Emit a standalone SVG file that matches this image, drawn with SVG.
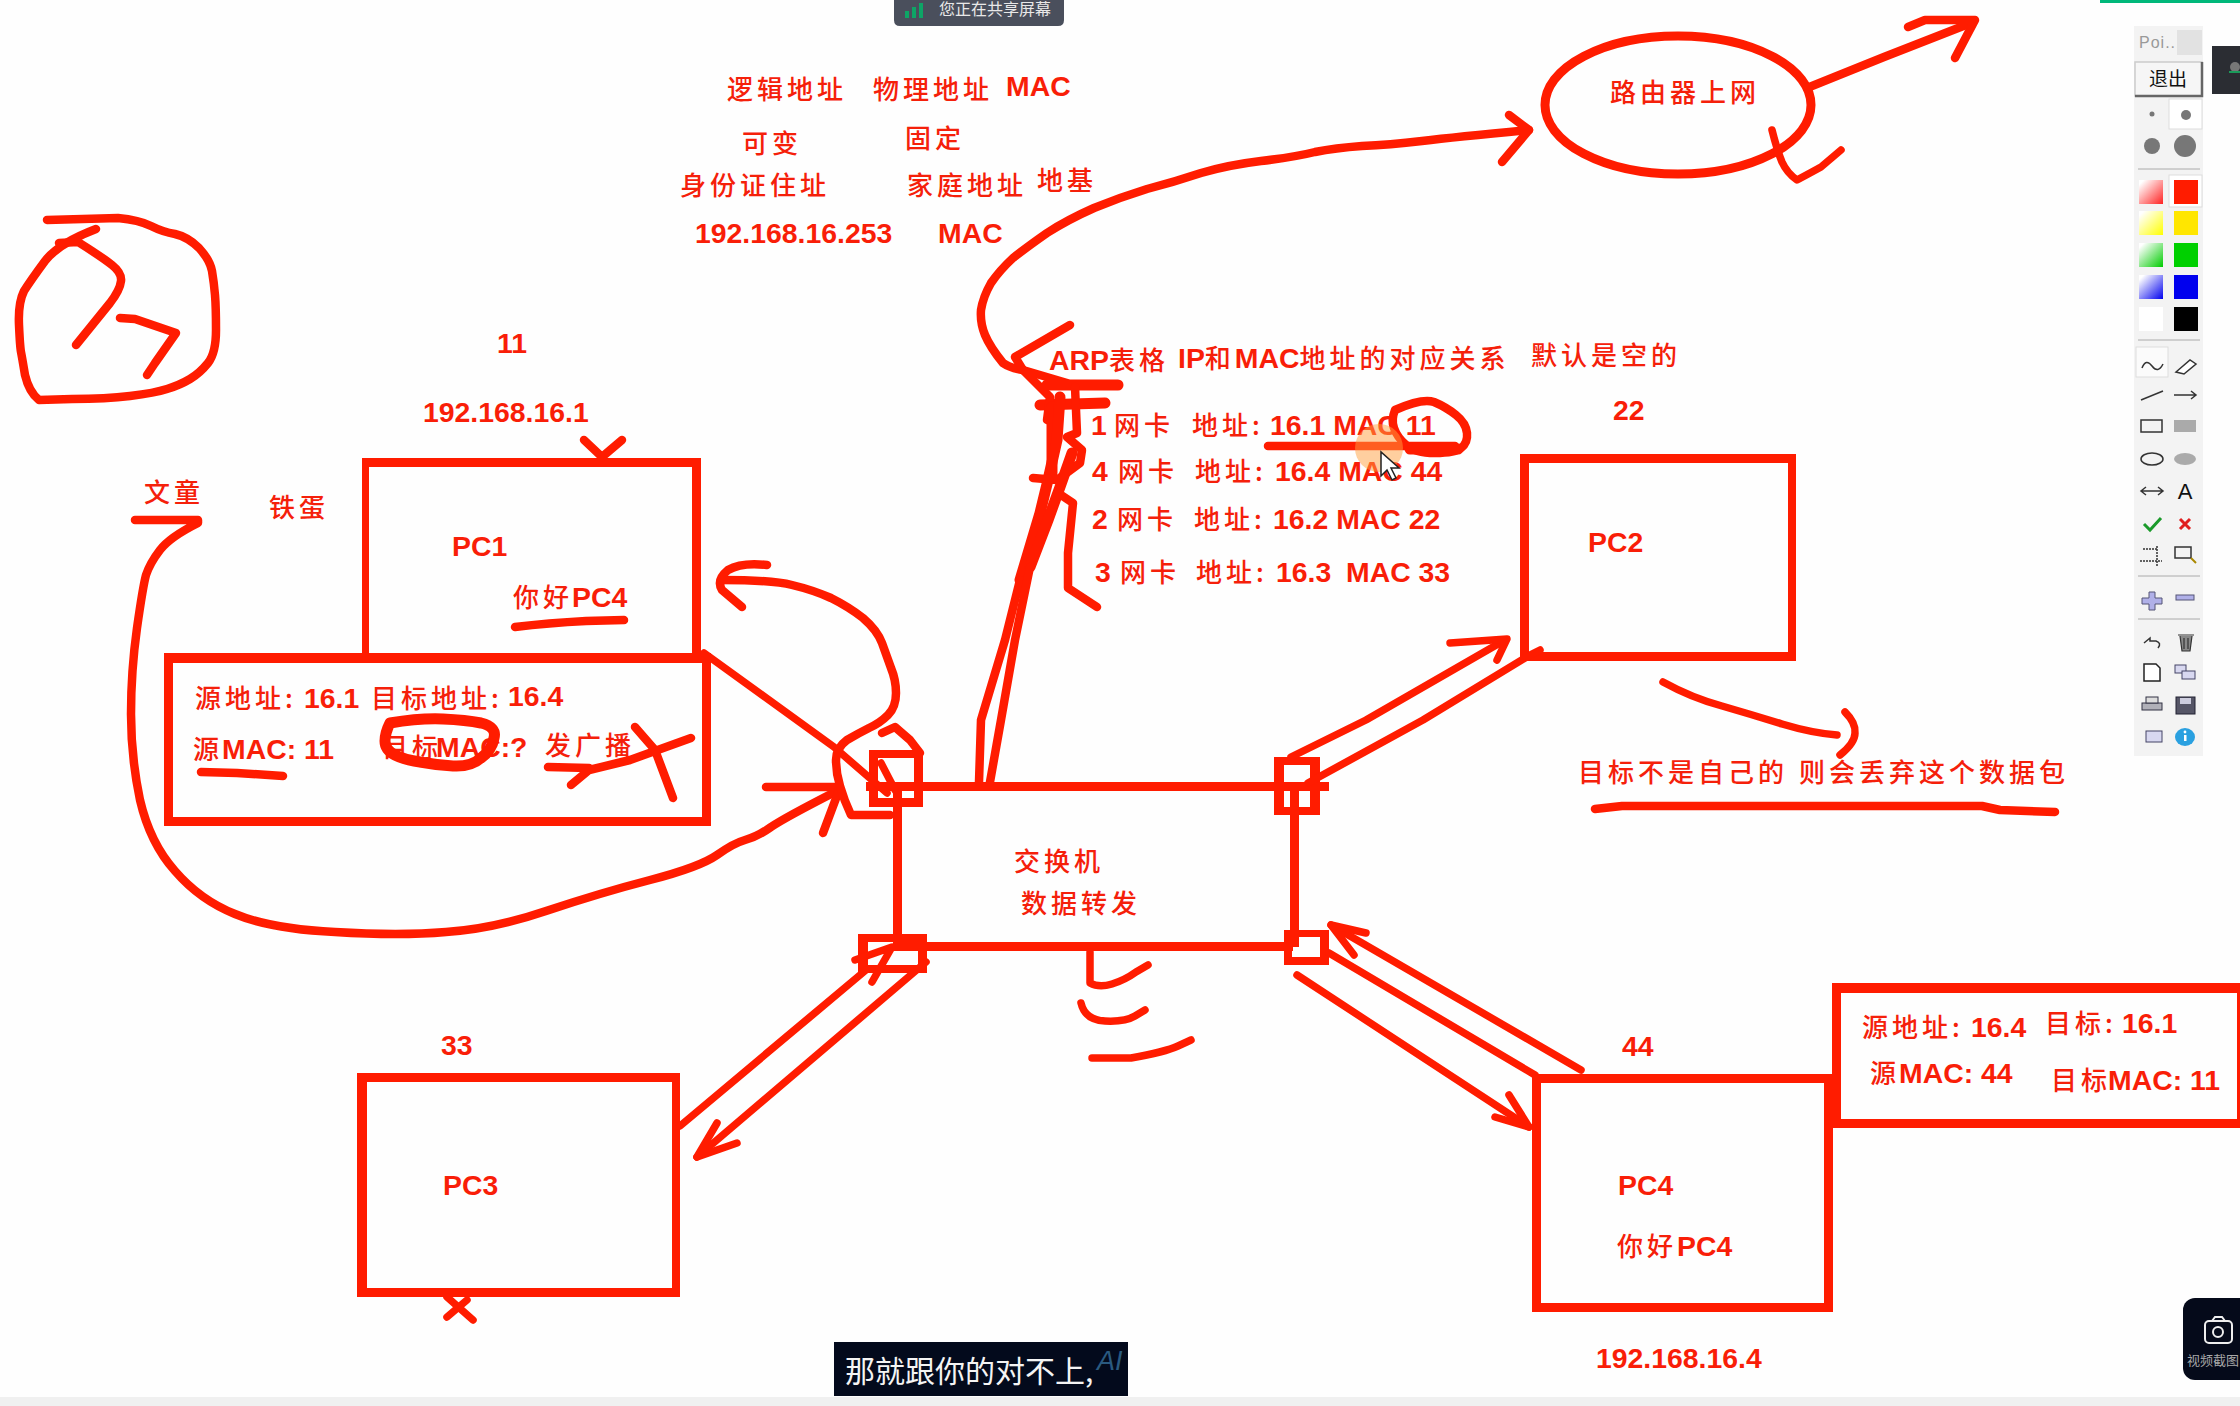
<svg xmlns="http://www.w3.org/2000/svg" width="2240" height="1406" viewBox="0 0 2240 1406">
<style>
.c{font-family:"Noto Sans CJK SC","Noto Sans",sans-serif;font-size:26px;font-weight:500;letter-spacing:4px;fill:#f5200a}
.l{font-family:"Liberation Sans",Arial,sans-serif;font-size:28.4px;font-weight:700;fill:#f91e08}
.s{fill:none;stroke:#ff1c00;stroke-width:8.5;stroke-linecap:round;stroke-linejoin:round}
.w{stroke-width:11}
.n{stroke-width:7.5}
.r{fill:#ff1c00;fill-rule:evenodd}
.ic{fill:none;stroke:#333;stroke-width:1.5}
.sep{stroke:#aaa;stroke-width:1}
</style>
<defs>
<linearGradient id="gr" x1="0" y1="0" x2="1" y2="1"><stop offset="0.1" stop-color="#ffffff"/><stop offset="1" stop-color="#f22"/></linearGradient>
<linearGradient id="gy" x1="0" y1="0" x2="1" y2="1"><stop offset="0.1" stop-color="#ffffff"/><stop offset="1" stop-color="#ff0"/></linearGradient>
<linearGradient id="gg" x1="0" y1="0" x2="1" y2="1"><stop offset="0.1" stop-color="#ffffff"/><stop offset="1" stop-color="#0c0"/></linearGradient>
<linearGradient id="gb" x1="0" y1="0" x2="1" y2="1"><stop offset="0.1" stop-color="#ffffff"/><stop offset="1" stop-color="#00e"/></linearGradient>
</defs>
<rect width="2240" height="1406" fill="#fefefe"/>

<g id="notes-top">
<text y="99"><tspan class="c" x="727">逻辑地址</tspan><tspan class="c" x="873">物理地址</tspan><tspan class="l" x="1006" y="96">MAC</tspan></text>
<text class="c" x="742" y="153">可变</text>
<text class="c" x="905" y="148">固定</text>
<text class="c" x="680" y="195">身份证住址</text>
<text class="c" x="907" y="195">家庭地址</text>
<text class="c" x="1037" y="190">地基</text>
<text class="l" x="695" y="243">192.168.16.253</text>
<text class="l" x="938" y="243">MAC</text>
</g>

<g id="arp-table">
<text y="370"><tspan class="l" x="1049">ARP</tspan><tspan class="c">表格</tspan><tspan class="l" x="1178" y="368">IP</tspan><tspan class="c" y="368">和</tspan><tspan class="l" y="368">MAC</tspan><tspan class="c" y="368">地址的对应关系</tspan></text>
<text class="c" x="1531" y="365">默认是空的</text>
<text y="435"><tspan class="l" x="1091">1</tspan><tspan class="c" x="1114">网卡</tspan><tspan class="c" x="1192">地址:</tspan><tspan class="l" x="1270">16.1 MAC 11</tspan></text>
<text y="481"><tspan class="l" x="1092">4</tspan><tspan class="c" x="1118">网卡</tspan><tspan class="c" x="1195">地址:</tspan><tspan class="l" x="1275">16.4 MAC 44</tspan></text>
<text y="529"><tspan class="l" x="1092">2</tspan><tspan class="c" x="1117">网卡</tspan><tspan class="c" x="1194">地址:</tspan><tspan class="l" x="1273">16.2 MAC 22</tspan></text>
<text y="582"><tspan class="l" x="1095">3</tspan><tspan class="c" x="1120">网卡</tspan><tspan class="c" x="1196">地址:</tspan><tspan class="l" x="1276">16.3</tspan><tspan class="l" x="1346">MAC 33</tspan></text>
</g>

<g id="router">
<ellipse cx="1678" cy="105" rx="133" ry="69" fill="none" stroke="#ff1c00" stroke-width="9"/>
<text class="c" x="1610" y="102">路由器上网</text>
</g>

<g id="pc1">
<path class="r" d="M362 458H701V660H362ZM369 467V660H692V467Z"/>
<text class="l" x="452" y="556">PC1</text>
<text y="607"><tspan class="c" x="513">你好</tspan><tspan class="l" x="572">PC4</tspan></text>
<text class="l" x="497" y="353">11</text>
<text class="l" x="423" y="422">192.168.16.1</text>
</g>

<g id="packet1">
<path class="r" d="M164 653H711V826H164ZM173 663V817H702V663Z"/>
<text y="708"><tspan class="c" x="195">源地址:</tspan><tspan class="l" x="304">16.1</tspan><tspan class="c" x="371">目标地址:</tspan><tspan class="l" x="508" y="706">16.4</tspan></text>
<text y="759"><tspan class="c" x="193">源</tspan><tspan class="l" x="222">MAC: 11</tspan></text>
<text y="757"><tspan class="c" x="382">目标</tspan><tspan class="l" x="436">MAC:?</tspan><tspan class="c" x="545" y="755">发广播</tspan></text>
</g>

<g id="pc2">
<path class="r" d="M1520 454H1796V661H1520ZM1529 463V652H1788V463Z"/>
<text class="l" x="1588" y="552">PC2</text>
<text class="l" x="1613" y="420">22</text>
</g>

<g id="pc3">
<path class="r" d="M357 1073H680V1297H357ZM367 1082V1288H672V1082Z"/>
<text class="l" x="443" y="1195">PC3</text>
<text class="l" x="441" y="1055">33</text>
</g>

<g id="pc4">
<path class="r" d="M1532 1074H1833V1312H1532ZM1541 1083V1303H1824V1083Z"/>
<text class="l" x="1618" y="1195">PC4</text>
<text y="1256"><tspan class="c" x="1617">你好</tspan><tspan class="l" x="1677">PC4</tspan></text>
<text class="l" x="1622" y="1056">44</text>
<text class="l" x="1596" y="1368">192.168.16.4</text>
</g>

<g id="packet2">
<path class="r" d="M1832 983H2245V1128H1832ZM1841 993V1119H2237V993Z"/>
<text y="1037"><tspan class="c" x="1862">源地址:</tspan><tspan class="l" x="1971">16.4</tspan><tspan class="c" x="2045" y="1033">目标:</tspan><tspan class="l" x="2122" y="1033">16.1</tspan></text>
<text y="1083"><tspan class="c" x="1870">源</tspan><tspan class="l" x="1899">MAC: 44</tspan></text>
<text y="1090"><tspan class="c" x="2051">目标</tspan><tspan class="l" x="2108">MAC: 11</tspan></text>
</g>

<g id="switch">
<rect x="866" y="782" width="463" height="9" fill="#ff1c00"/>
<rect x="893" y="942" width="400" height="9" fill="#ff1c00"/>
<rect x="893" y="782" width="9" height="165" fill="#ff1c00"/>
<rect x="1290" y="782" width="9" height="165" fill="#ff1c00"/>
<path class="r" d="M869 750H923V807H869ZM878 758V798H914V758Z"/>
<path class="r" d="M1274 757H1320V815H1274ZM1284 765V807H1310V765Z"/>
<path class="r" d="M858 934H927V973H858ZM868 942V965H918V942Z"/>
<path class="r" d="M1284 930H1329V965H1284ZM1292 937V957H1320V937Z"/>
<text class="c" x="1014" y="871">交换机</text>
<text class="c" x="1021" y="913">数据转发</text>
</g>

<g id="labels">
<text class="c" x="144" y="502">文童</text>
<text class="c" x="269" y="517">铁蛋</text>
<text class="c" x="1578" y="782">目标不是自己的</text>
<text class="c" x="1799" y="782">则会丢弃这个数据包</text>
</g>

<g id="connectors">
<polyline class="s n" points="1291,757 1366,720 1505,640"/>
<polyline class="s n" points="1450,643 1507,639 1497,660"/>
<polyline class="s n" points="1308,783 1423,720 1530,655 1540,650"/>
<polyline class="s n" points="680,1126 866,970"/>
<polyline class="s n" points="855,960 892,947 872,982"/>
<polyline class="s n" points="697,1157 926,962"/>
<polyline class="s n" points="717,1123 697,1157 737,1143"/>
<polyline class="s n" points="1331,925 1581,1070"/>
<polyline class="s n" points="1366,933 1331,925 1354,955"/>
<polyline class="s n" points="1329,953 1535,1075"/>
<polyline class="s n" points="1297,975 1529,1127"/>
<polyline class="s n" points="1509,1095 1529,1127 1495,1117"/>
<polyline class="s n" points="704,653 834,747 887,793"/>
<polyline class="s n" points="881,763 895,790"/>
<path class="s" d="M135,520 H198 V523 Q170,537 160,550 Q150,563 146,575 Q143,586 137,628 Q131,671 131,714 Q131,757 140,800 Q150,843 175,871 Q200,900 235,914 Q271,929 335,932 Q400,936 446,932 Q493,929 546,911 Q600,893 650,880 Q700,867 717,855 Q734,843 745,840 Q757,837 771,827 Q786,817 835,792"/>
<polyline class="s" points="766,787 835,787"/>
<polyline class="s" points="823,833 838,793"/>
<path class="s" d="M767,565 Q742,562 728,570 Q716,580 722,590 L742,607"/>
<path class="s" d="M721,580 Q772,580 792,585 Q813,590 831,598 Q849,607 863,618 Q877,630 882,643 Q887,657 891,668 Q896,680 896,693 Q896,707 888,715 Q880,723 869,728 Q859,733 847,740 Q836,748 836,760 Q836,773 840,786 Q844,800 851,815 L890,815"/>
<polyline class="s" points="882,733 895,727 910,740 920,753"/>
<path class="s" d="M1529,130 Q1456,137 1422,141 Q1389,145 1362,146 Q1335,148 1315,152 Q1295,157 1261,161 Q1228,165 1201,173 Q1174,182 1147,189 Q1121,197 1094,208 Q1067,220 1047,233 Q1027,247 1013,258 Q1000,270 991,283 Q983,297 981,310 Q980,323 985,335 Q990,347 1003,363 Q1010,368 1023,370 L1067,383"/>
<polyline class="s" points="1509,115 1529,130 1502,162"/>
<polyline class="s" points="1070,325 1015,357 1023,370"/>
<polyline class="s w" points="1047,385 1118,385"/>
<polyline class="s w" points="1040,405 1105,403"/>
<polyline class="s" points="1023,370 1050,397 1047,420"/>
<polyline class="s w" points="1052,407 1052,473"/>
<polyline class="s" points="1075,387 1077,433 1067,437 1082,450 1080,463 1057,480 1033,478"/>
<polyline class="s w" points="1060,397 1057,440 1048,480"/>
<polyline class="s w" points="1048,480 1040,513 1020,580"/>
<polyline class="s" points="1020,580 1005,640 981,720 979,782"/>
<polyline class="s w" points="1072,453 1060,487 1048,520 1030,567"/>
<polyline class="s" points="1030,567 1015,640 1001,720 990,782"/>
<polyline class="s" points="1058,493 1073,503 1068,553 1068,588 1097,607"/>
<polyline class="s" points="1807,88 1884,57 1971,23"/>
<polyline class="s" points="1908,27 1925,20 1975,20 1955,58"/>
<path class="s n" d="M1772,130 Q1777,150 1782,162 Q1787,173 1797,180 Q1812,172 1821,167 L1841,150"/>
</g>

<g id="annotations">
<path class="s" d="M47,220 L118,218 Q139,220 151,226 Q163,232 175,234 Q188,237 199,248 Q210,260 212,271 Q214,283 215,295 Q216,307 216,330 Q216,353 208,363 Q200,373 190,379 Q180,385 167,389 Q155,393 130,396 Q106,399 72,399 L39,400 Q29,392 25,375 Q22,357 21,352 Q20,347 19,325 Q18,303 24,291 Q31,280 45,261 Q59,243 96,229"/>
<path class="s" d="M59,243 L78,242 Q102,257 112,265 Q122,273 121,281 Q120,290 110,303 L76,345"/>
<polyline class="s" points="120,318 135,319 176,333 155,363 147,375"/>
<polyline class="s" points="584,440 602,457 622,440"/>
<path class="s" d="M515,627 Q548,623 586,621 L624,620"/>
<polyline class="s" points="201,772 237,773 283,776"/>
<path class="s w" d="M390,723 Q420,718 443,719 Q466,720 481,723 Q497,727 494,738 Q492,750 481,758 Q471,767 453,766 Q436,765 420,762 Q405,760 395,755 Q385,750 385,741 Q385,733 390,723"/>
<polyline class="s" points="548,767 589,768"/>
<polyline class="s" points="571,785 589,770 630,760 691,738"/>
<polyline class="s" points="635,727 655,750 673,798"/>
<polyline class="s" points="1268,446 1455,446"/>
<path class="s" d="M1395,410 Q1422,398 1434,402 Q1446,407 1456,415 Q1466,423 1467,433 Q1468,443 1461,448 Q1455,453 1435,453 Q1415,453 1406,445 Q1397,437 1394,428 Q1391,420 1395,410"/>
<polyline class="s w" points="1410,449 1458,449"/>
<path class="s n" d="M1090,952 L1090,983 Q1099,988 1112,984 Q1125,980 1136,972 L1148,965"/>
<path class="s n" d="M1081,1003 Q1085,1020 1105,1021 Q1125,1022 1135,1016 L1145,1010"/>
<path class="s n" d="M1092,1058 L1131,1058 Q1165,1052 1178,1046 L1191,1040"/>
<path class="s n" d="M1663,682 Q1692,698 1722,706 Q1753,715 1782,724 Q1812,733 1837,735"/>
<path class="s n" d="M1845,712 Q1856,723 1855,733 Q1855,743 1840,755"/>
<polyline class="s" points="1595,809 1622,806 1982,806 2000,810 2055,812"/>
<polyline class="s n" points="447,1317 467,1300"/>
<polyline class="s n" points="447,1297 473,1320"/>
</g>

<g id="cursor">
<circle cx="1379" cy="448" r="24" fill="#ffa040" fill-opacity="0.5"/>
<polygon points="1381,452 1381,476 1387,470 1392,480 1396,478 1391,468 1399,468" fill="#fff" stroke="#222" stroke-width="1.5"/>
</g>

<g id="share-banner">
<path d="M894 0H1064V20Q1064 26 1058 26H900Q894 26 894 20Z" fill="#4a4f5c"/>
<rect x="905" y="11" width="4" height="7" fill="#0ea566"/>
<rect x="912" y="7" width="4" height="11" fill="#0ea566"/>
<rect x="919" y="3" width="4" height="15" fill="#0ea566"/>
<text x="939" y="15" font-family="Noto Sans CJK SC,sans-serif" font-size="16" fill="#e8e8e8">您正在共享屏幕</text>
</g>

<rect x="2100" y="0" width="140" height="3" fill="#00b87a"/>

<g id="toolbar">
<rect x="2134" y="26" width="69" height="730" fill="#f3f3f3"/>
<text x="2139" y="48" font-family="Liberation Sans,sans-serif" font-size="16" fill="#999" letter-spacing="1">Poi...</text>
<rect x="2177" y="30" width="25" height="25" fill="#e2e2e2"/>
<rect x="2135" y="62" width="67" height="34" fill="#f6f6f6" stroke="#ccc" stroke-width="1.5"/>
<path d="M2202 62V96H2135" fill="none" stroke="#666" stroke-width="2.5"/>
<text x="2168" y="86" text-anchor="middle" font-family="Noto Sans CJK SC,sans-serif" font-size="19" fill="#111">退出</text>
<rect x="2169" y="99" width="33" height="30" fill="#fff" stroke="#ddd"/>
<circle cx="2152" cy="114" r="2.5" fill="#777"/>
<circle cx="2186" cy="115" r="5" fill="#777"/>
<circle cx="2152" cy="146" r="8" fill="#777"/>
<circle cx="2185" cy="146" r="11" fill="#777"/>
<line class="sep" x1="2138" x2="2200" y1="169" y2="169"/>
<rect x="2169" y="175" width="33" height="32" fill="#fff" stroke="#ddd"/>
<rect x="2139" y="180" width="24" height="24" fill="url(#gr)"/>
<rect x="2174" y="180" width="24" height="24" fill="#ff1c00"/>
<rect x="2139" y="211" width="24" height="24" fill="url(#gy)"/>
<rect x="2174" y="211" width="24" height="24" fill="#ffe600"/>
<rect x="2139" y="243" width="24" height="24" fill="url(#gg)"/>
<rect x="2174" y="243" width="24" height="24" fill="#00d000"/>
<rect x="2139" y="275" width="24" height="24" fill="url(#gb)"/>
<rect x="2174" y="275" width="24" height="24" fill="#0000ee"/>
<rect x="2139" y="307" width="24" height="24" fill="#fff"/>
<rect x="2174" y="307" width="24" height="24" fill="#000"/>
<line class="sep" x1="2138" x2="2200" y1="340" y2="340"/>
<rect x="2136" y="347" width="32" height="30" fill="#fbfbfb" stroke="#ddd"/>
<path class="ic" d="M2142 368Q2146 358 2152 366T2163 364"/>
<path d="M2176 372L2190 360L2196 364L2184 374Z" fill="#fff" stroke="#333" stroke-width="1.5"/>
<line class="ic" x1="2141" y1="400" x2="2163" y2="391"/>
<path class="ic" d="M2174 395H2196M2191 391L2196 395L2191 399"/>
<rect class="ic" x="2141" y="420" width="21" height="12"/>
<rect x="2174" y="420" width="22" height="12" fill="#aaa"/>
<ellipse class="ic" cx="2152" cy="459" rx="11" ry="6"/>
<ellipse cx="2185" cy="459" rx="11" ry="6" fill="#aaa"/>
<path class="ic" d="M2141 491H2163M2146 487L2141 491L2146 495M2158 487L2163 491L2158 495"/>
<text x="2185" y="499" text-anchor="middle" font-family="Liberation Sans,sans-serif" font-size="22" fill="#111">A</text>
<path d="M2144 524L2150 530L2161 518" fill="none" stroke="#1a9a2a" stroke-width="3"/>
<path d="M2180 519L2190 529M2190 519L2180 529" stroke="#e02020" stroke-width="3"/>
<path class="ic" d="M2140 561H2162M2157 546V566M2143 549H2157" stroke-dasharray="2 1"/>
<rect class="ic" x="2175" y="547" width="16" height="11" stroke="#556"/>
<path d="M2191 558L2196 563" stroke="#a80" stroke-width="2"/>
<line class="sep" x1="2138" x2="2200" y1="576" y2="576"/>
<path d="M2142 598H2149V592H2155V598H2162V604H2155V610H2149V604H2142Z" fill="#b0b0e8" stroke="#557"/>
<rect x="2176" y="595" width="18" height="5" fill="#b0b0e8" stroke="#557"/>
<line class="sep" x1="2138" x2="2200" y1="619" y2="619"/>
<path class="ic" d="M2144 643L2150 638V641H2156Q2162 643 2158 648"/>
<path d="M2178 635H2194M2180 636L2182 651H2190L2192 636M2184 638V649M2188 638V649" fill="#888" stroke="#333" stroke-width="1.2"/>
<path d="M2144 664H2156L2160 668V681H2144Z" fill="#fff" stroke="#222" stroke-width="1.5"/>
<rect x="2175" y="665" width="11" height="8" fill="#d8d8f0" stroke="#446"/>
<rect x="2182" y="671" width="13" height="8" fill="#d8d8f0" stroke="#446"/>
<rect x="2142" y="703" width="20" height="7" fill="#b0b0b8" stroke="#334"/>
<rect x="2146" y="697" width="12" height="6" fill="#ddd" stroke="#334"/>
<rect x="2176" y="697" width="19" height="17" fill="#556" stroke="#223"/>
<rect x="2180" y="698" width="11" height="6" fill="#ccd"/>
<rect x="2146" y="731" width="16" height="11" fill="#d8d8f0" stroke="#446"/>
<ellipse cx="2185" cy="737" rx="10" ry="9" fill="#2aa0e0"/>
<rect x="2184" y="735" width="2.5" height="6" fill="#fff"/>
<circle cx="2185" cy="732" r="1.4" fill="#fff"/>
</g>

<g id="mic-tile">
<rect x="2212" y="46" width="28" height="48" fill="#2b2d33"/>
<circle cx="2235" cy="67" r="5" fill="#777"/>
<path d="M2229 72H2240" stroke="#1a9a5a" stroke-width="2"/>
</g>

<g id="screenshot-button">
<rect x="2183" y="1298" width="70" height="82" rx="12" fill="#050a1a"/>
<rect x="2205" y="1321" width="27" height="22" rx="4" fill="none" stroke="#eee" stroke-width="2"/>
<circle cx="2218" cy="1332" r="5" fill="none" stroke="#eee" stroke-width="2"/>
<path d="M2212 1321L2215 1317H2222L2225 1321" fill="none" stroke="#eee" stroke-width="2"/>
<text x="2187" y="1365" font-family="Noto Sans CJK SC,sans-serif" font-size="13" fill="#a8a8a8">视频截图</text>
</g>

<rect x="0" y="1397" width="2240" height="9" fill="#f0f0f0"/>

<g id="subtitle">
<rect x="834" y="1342" width="294" height="54" fill="#030a1c"/>
<text x="845" y="1382" font-family="Noto Sans CJK SC,sans-serif" font-size="30" fill="#f4f4f4">那就跟你的对不上,</text>
<text x="1097" y="1370" font-family="Liberation Sans,sans-serif" font-size="27" font-style="italic" fill="#2a5a80">AI</text>
</g>
</svg>
